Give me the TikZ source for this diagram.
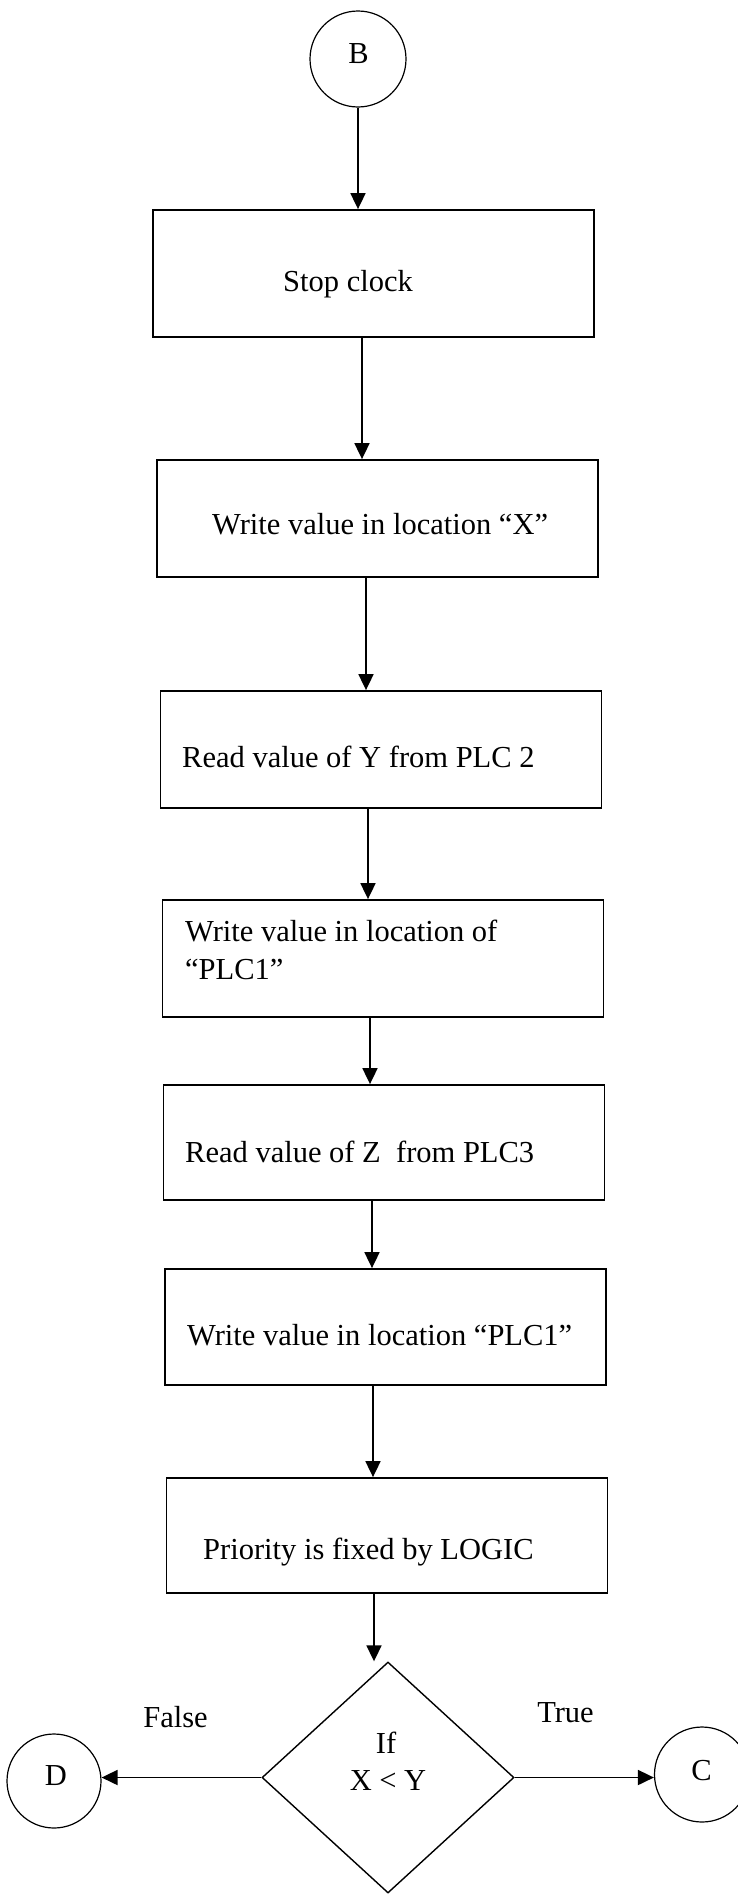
\documentclass[tikz,border=0pt]{standalone}
\usepackage{fontspec}
\setmainfont{Liberation Serif}
\usetikzlibrary{arrows.meta,shapes.geometric}
\begin{document}
\begin{tikzpicture}[x=1pt,y=-1pt,
  font=\fontsize{30.5}{38}\selectfont,
  stepbox/.style={draw, line width=1.8pt, minimum width=441pt, inner sep=0pt},
  txt/.style={anchor=base west, inner sep=0pt},
  lbl/.style={anchor=base, inner sep=0pt},
  conn/.style={draw, circle, line width=1.2pt, minimum size=94pt, inner sep=0pt},
  arr/.style={line width=1.8pt, -{Triangle[length=16pt,width=15pt]}},
]
\useasboundingbox (0,0) rectangle (738,1895);

% connector circles
\node[conn, minimum size=96pt] (B) at (358,59) {};
\node[lbl] (Bt) at (358.5,63) {B};
\node[conn] (D) at (54,1781) {};
\node[lbl] (Dt) at (56,1785) {D};
\node[conn, minimum size=95pt] (C) at (702,1774.5) {};
\node[lbl] (Ct) at (701.5,1780) {C};

% process boxes
\node[stepbox, minimum height=127pt] (s1) at (373.5,273.5) {};
\node[txt] (t1) at (283,291) {Stop clock};

\node[stepbox, minimum height=117pt] (s2) at (377.5,518.5) {};
\node[txt] (t2) at (212,534) {Write value in location “X”};

\node[stepbox, minimum height=117pt] (s3) at (381,749.5) {};
\node[txt] (t3) at (182,767) {Read value of Y from PLC 2};

\node[stepbox, minimum height=117pt] (s4) at (383,958.5) {};
\node[txt] (t4a) at (185,941) {Write value in location of};
\node[txt] (t4b) at (185,979) {“PLC1”};

\node[stepbox, minimum height=115pt] (s5) at (384,1142.5) {};
\node[txt] (t5) at (185,1162) {Read value of Z\ \ from PLC3};

\node[stepbox, minimum height=116pt] (s6) at (385.5,1327) {};
\node[txt] (t6) at (187,1345) {Write value in location “PLC1”};

\node[stepbox, minimum height=115pt] (s7) at (387,1535.5) {};
\node[txt] (t7) at (203,1559) {Priority is fixed by LOGIC};

% decision
\node[diamond, draw, line width=1.4pt, minimum width=252pt, minimum height=231pt, inner sep=0pt] (dia) at (388,1777.5) {};
\node[lbl] (q1) at (386,1753) {If};
\node[lbl] (q2) at (388,1790) {X < Y};
\node[lbl] (fl) at (175.5,1727) {False};
\node[lbl] (tr) at (565.5,1722) {True};

% flow
\draw[arr] (B.south) -- (s1.north -| B.south);
\draw[arr] (s1.south -| 362,0) -- (s2.north -| 362,0);
\draw[arr] (s2.south -| 366,0) -- (s3.north -| 366,0);
\draw[arr] (s3.south -| 368,0) -- (s4.north -| 368,0);
\draw[arr] (s4.south -| 370,0) -- (s5.north -| 370,0);
\draw[arr] (s5.south -| 372,0) -- (s6.north -| 372,0);
\draw[arr] (s6.south -| 373,0) -- (s7.north -| 373,0);
\draw[arr] (s7.south -| 374,0) -- (dia.north -| 374,0);
\draw[arr] (dia.west) -- (dia.west -| D.east);
\draw[arr] (dia.east) -- (dia.east -| C.west);
\end{tikzpicture}
\end{document}
